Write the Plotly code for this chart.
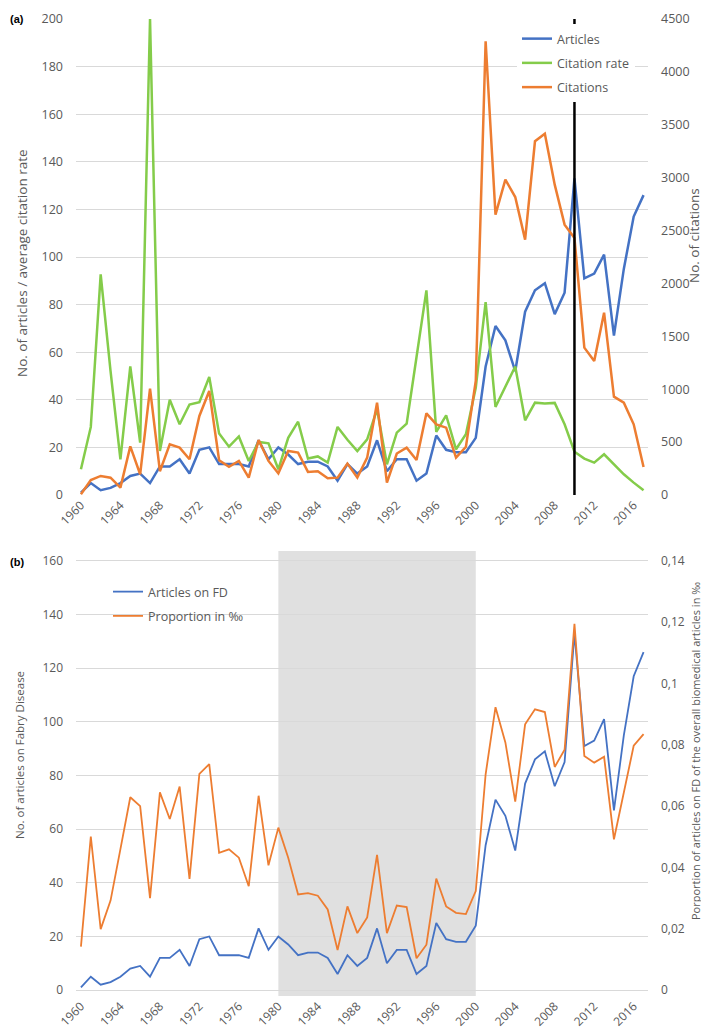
import plotly.graph_objects as go

years = list(range(1960, 2018))

articles = [1, 5, 2, 3, 5, 8, 9, 5, 12, 12, 15, 9, 19, 20, 13, 13, 13, 12, 23, 15,
            20, 17, 13, 14, 14, 12, 6, 13, 9, 12, 23, 10, 15, 15, 6, 9, 25, 19, 18, 18,
            24, 54, 71, 65, 52, 77, 86, 89, 76, 85, 133, 91, 93, 101, 67, 95, 117, 126]

citation_rate = [10.8, 28.6, 92.7, 52, 15, 54, 22, 200, 18.5, 40, 29.7, 38, 39, 49.6, 25.8, 20.3,
                 24.6, 14.3, 22.3, 21.7, 10.8, 24, 30.8, 15.3, 16.2, 13.6, 28.6, 23.2, 18.5, 23.4,
                 36, 12.9, 26.2, 30, 58, 86, 26.5, 33.5, 19.2, 25.5, 45, 81, 37, 45.8, 54, 31.4,
                 38.8, 38.4, 38.7, 29.7, 18.2, 15.3, 13.6, 17.1, 12.9, 8.7, 5.2, 2]

citations = [7, 142, 180, 164, 70, 460, 196, 1006, 225, 479, 448, 338, 747, 983, 329, 266,
             322, 164, 520, 322, 205, 416, 401, 218, 225, 158, 164, 297, 164, 353, 873, 117,
             392, 448, 331, 772, 668, 637, 353, 455, 1078, 4290, 2650, 2981, 2817, 2414, 3344,
             3416, 2934, 2556, 2430, 1393, 1267, 1724, 930, 873, 668, 265]

proportion = [0.0142, 0.0501, 0.0199, 0.0292, 0.046, 0.0629, 0.060, 0.030, 0.0645, 0.0558,
              0.0664, 0.0363, 0.0705, 0.0737, 0.0448, 0.0459, 0.0432, 0.0339, 0.0634, 0.0407,
              0.0530, 0.0432, 0.0312, 0.0316, 0.0308, 0.0263, 0.0131, 0.0273, 0.0186, 0.0237,
              0.0441, 0.0186, 0.0276, 0.0271, 0.0104, 0.0148, 0.0364, 0.0273, 0.0252, 0.0248,
              0.0323, 0.0704, 0.0923, 0.0808, 0.0615, 0.0867, 0.0916, 0.0907, 0.0728, 0.0784,
              0.1195, 0.0764, 0.0742, 0.0761, 0.0492, 0.065, 0.0797, 0.0835]

marker_year = 2010
shade_start, shade_end = 1980, 2000

x_tick_years = list(range(1960, 2017, 4))
top_left_ticks = list(range(0, 201, 20))
top_right_ticks = list(range(0, 4501, 500))
bot_left_ticks = list(range(0, 161, 20))
bot_right_vals = [0, 0.02, 0.04, 0.06, 0.08, 0.10, 0.12, 0.14]
bot_right_text = ["0", "0,02", "0,04", "0,06", "0,08", "0,1", "0,12", "0,14"]

BLUE = "#4472C4"
ORANGE = "#ED7D31"
GREEN = "#84CC4A"
GRID = "#D9D9D9"
TXT = "#595959"
FONT = "Open Sans"

W, H = 709, 1028
ML, MR = 68, 69
PW = W - ML - MR

def py(pix):
    return 1 - pix / H

def px(pix):
    return (pix - ML) / PW

fig = go.Figure()

# Top chart
fig.add_trace(go.Scatter(x=years, y=articles, name="Articles", mode="lines",
                         line=dict(color=BLUE, width=2.5), xaxis="x", yaxis="y",
                         legend="legend", legendgroup="a1"))
fig.add_trace(go.Scatter(x=years, y=citation_rate, name="Citation rate", mode="lines",
                         line=dict(color=GREEN, width=2.5), xaxis="x", yaxis="y",
                         legend="legend", legendgroup="a2"))
fig.add_trace(go.Scatter(x=years, y=citations, name="Citations", mode="lines",
                         line=dict(color=ORANGE, width=2.5), xaxis="x", yaxis="y2",
                         legend="legend", legendgroup="a3"))

# Bottom chart
fig.add_trace(go.Scatter(x=years, y=articles, name="Articles on FD", mode="lines",
                         line=dict(color=BLUE, width=1.8), xaxis="x2", yaxis="y3",
                         legend="legend2", legendgroup="b1"))
fig.add_trace(go.Scatter(x=years, y=proportion, name="Proportion in ‰", mode="lines",
                         line=dict(color=ORANGE, width=1.8), xaxis="x2", yaxis="y4",
                         legend="legend2", legendgroup="b2"))

top_dom = [py(487), py(11)]
bot_dom = [py(988), py(543)]
bot_lo, bot_hi = -2.2, 163.7
scale = 0.14 / 160

xcommon = dict(range=[1959.5, 2017.45], tickvals=x_tick_years, ticktext=[str(v) for v in x_tick_years],
               tickangle=-45, showgrid=False, zeroline=False, showline=False,
               tickfont=dict(family=FONT, size=12, color=TXT), ticks="", automargin=False)

ycommon = dict(zeroline=False, showline=False, ticks="", ticklabelstandoff=12, automargin=False)

fig.update_layout(
    width=W, height=H,
    margin=dict(l=ML, r=MR, t=0, b=0),
    paper_bgcolor="white", plot_bgcolor="white",
    font=dict(family=FONT, color=TXT),
    xaxis=dict(domain=[0, 1], anchor="y", **xcommon),
    yaxis=dict(domain=top_dom, range=[0, 200], tickvals=top_left_ticks, showgrid=True,
               gridcolor=GRID, gridwidth=1, tickfont=dict(family=FONT, size=12.5, color=TXT),
               **ycommon),
    yaxis2=dict(overlaying="y", side="right", anchor="x", range=[0, 4500],
                tickvals=top_right_ticks, showgrid=False,
                tickfont=dict(family=FONT, size=12.5, color=TXT), **ycommon),
    xaxis2=dict(domain=[0, 1], anchor="y3", **xcommon),
    yaxis3=dict(domain=bot_dom, range=[bot_lo, bot_hi], tickvals=bot_left_ticks, showgrid=True,
                gridcolor=GRID, gridwidth=1, tickfont=dict(family=FONT, size=12, color=TXT),
                **ycommon),
    yaxis4=dict(overlaying="y3", side="right", anchor="x2",
                range=[bot_lo * scale, bot_hi * scale],
                tickvals=bot_right_vals, ticktext=bot_right_text, showgrid=False,
                tickfont=dict(family=FONT, size=12, color=TXT), **ycommon),
    legend=dict(x=px(509), y=py(16), xanchor="left", yanchor="top", bgcolor="white",
                font=dict(family=FONT, size=12.5, color=TXT), tracegroupgap=5,
                itemwidth=30),
    legend2=dict(x=px(100), y=py(569), xanchor="left", yanchor="top",
                 bgcolor="rgba(0,0,0,0)",
                 font=dict(family=FONT, size=12.5, color=TXT), tracegroupgap=5,
                 itemwidth=30),
    showlegend=True,
    shapes=[
        dict(type="line", xref="x", yref="y", x0=marker_year, x1=marker_year, y0=0, y1=200,
             line=dict(color="black", width=2.5), layer="above"),
        dict(type="rect", xref="x2", yref="y3", x0=shade_start, x1=shade_end,
             y0=bot_lo, y1=bot_hi, fillcolor="#E0E0E0", line=dict(width=0), layer="below"),
    ],
)

def title(text, xpix, ypix, size):
    fig.add_annotation(text=text, x=px(xpix), y=py(ypix), xref="paper", yref="paper",
                       xanchor="center", yanchor="middle", textangle=-90, showarrow=False,
                       font=dict(family=FONT, size=size, color=TXT))

title("No. of articles / average citation rate", 14, 255, 13.5)
title("No. of citations", 686, 228, 13.5)
title("No. of articles on Fabry Disease", 11, 747, 11.5)
title("Porportion of articles on FD of the overall biomedical articles in ‰", 687, 743, 11)

for txt, ypix in [("<b>(a)</b>", 3), ("<b>(b)</b>", 546)]:
    fig.add_annotation(text=txt, x=px(0), y=py(ypix), xref="paper", yref="paper",
                       xanchor="left", yanchor="top", showarrow=False,
                       font=dict(family="Liberation Sans", size=11, color="black"))

fig.write_html("out.html")
